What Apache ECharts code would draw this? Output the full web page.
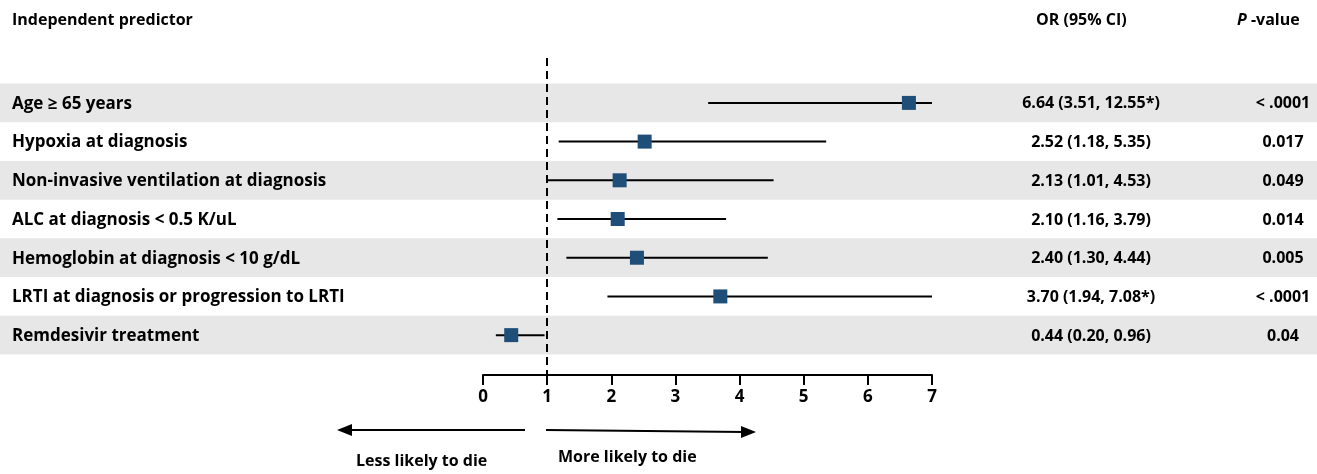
<!DOCTYPE html>
<html><head><meta charset="utf-8">
<script src="https://cdn.jsdelivr.net/npm/echarts@6/dist/echarts.min.js"></script>
<style>html,body{margin:0;padding:0;background:#fff}#c{width:1317px;height:474px}</style>
</head><body><div id="c"></div>
<script>
const predictors = ["Age \u2265 65 years","Hypoxia at diagnosis","Non-invasive ventilation at diagnosis","ALC at diagnosis < 0.5 K/uL","Hemoglobin at diagnosis < 10 g/dL","LRTI at diagnosis or progression to LRTI","Remdesivir treatment"];
const orValues = [6.64, 2.52, 2.13, 2.10, 2.40, 3.70, 0.44];
const ciLow = [3.51, 1.18, 1.01, 1.16, 1.30, 1.94, 0.20];
const ciHighPlotted = [7, 5.35, 4.53, 3.79, 4.44, 7, 0.96];
const orLabels = ["6.64 (3.51, 12.55*)","2.52 (1.18, 5.35)","2.13 (1.01, 4.53)","2.10 (1.16, 3.79)","2.40 (1.30, 4.44)","3.70 (1.94, 7.08*)","0.44 (0.20, 0.96)"];
const pLabels = ["< .0001","0.017","0.049","0.014","0.005","< .0001","0.04"];
const xTicks = [0,1,2,3,4,5,6,7];

const F = '"Open Sans", sans-serif';
const T = (o)=>Object.assign({fill:'#000', fontFamily:F, fontWeight:'bold', fontSize:16}, o);
const chart = echarts.init(document.getElementById('c'));
const rows = predictors.map((p,i)=>[i+1, orValues[i], ciLow[i], ciHighPlotted[i], p, orLabels[i], pLabels[i]]);
chart.setOption({
  animation:false,
  grid:{left:483, right:385, top:58, bottom:99},
  xAxis:{type:'value', min:0, max:7, interval:1,
    axisLine:{show:true, onZero:false, lineStyle:{color:'#000', width:2}},
    axisTick:{show:true, length:10, lineStyle:{color:'#000', width:2}},
    splitLine:{show:false},
    axisLabel:{color:'#000', fontFamily:F, fontWeight:'bold', fontSize:17, margin:14}},
  yAxis:{type:'value', min:-0.16, max:8.03, inverse:true, show:false},
  series:[
    {type:'custom', z:1, clip:false, data:rows,
     renderItem:(params, api)=>{
       const i = api.value(0);
       if (i % 2 === 0) return null;
       const y0 = api.coord([0, i-0.5])[1], y1 = api.coord([0, i+0.5])[1];
       return {type:'rect', shape:{x:0, y:y0, width:api.getWidth(), height:y1-y0}, style:{fill:'#e7e7e7'}};
     }},
    {type:'custom', z:5, clip:false, data:rows,
     renderItem:(params, api)=>{
       const i = api.value(0);
       const c = api.coord([api.value(1), i]);
       const l = api.coord([api.value(2), i]);
       const h = api.coord([api.value(3), i]);
       const r = rows[params.dataIndex];
       return {type:'group', children:[
         {type:'line', shape:{x1:l[0], y1:l[1], x2:h[0], y2:h[1]}, style:{stroke:'#000', lineWidth:2}},
         {type:'rect', shape:{x:c[0]-7, y:c[1]-7, width:14, height:14}, style:{fill:'#1f4e79'}},
         {type:'text', x:12, y:c[1]+1, style:T({text:r[4], fontSize:17, align:'left', verticalAlign:'middle'})},
         {type:'text', x:1091, y:c[1]+1, style:T({text:r[5], align:'center', verticalAlign:'middle'})},
         {type:'text', x:1283, y:c[1]+1, style:T({text:r[6], align:'center', verticalAlign:'middle'})}
       ]};
     },
     markLine:{silent:true, symbol:'none', label:{show:false},
       lineStyle:{color:'#000', type:[8,5], width:2}, data:[{xAxis:1}]}}
  ],
  graphic:[
    {type:'text', left:12, top:12, style:T({text:'Independent predictor'})},
    {type:'text', left:1036, top:12, style:T({text:'OR (95% CI)'})},
    {type:'text', left:1237, top:12, style:T({text:'{i|P} -value', rich:{i:{fontStyle:'italic', fontWeight:'bold', fontSize:16, fontFamily:F}}})},
    {type:'line', shape:{x1:525, y1:430, x2:345, y2:430}, style:{stroke:'#000', lineWidth:2}},
    {type:'polygon', shape:{points:[[337,430],[352,424],[352,436]]}, style:{fill:'#000'}},
    {type:'line', shape:{x1:546, y1:430, x2:745, y2:432}, style:{stroke:'#000', lineWidth:2}},
    {type:'polygon', shape:{points:[[756,432],[741,426],[741,438]]}, style:{fill:'#000'}},
    {type:'text', left:356, top:453, style:T({text:'Less likely to die'})},
    {type:'text', left:558, top:449, style:T({text:'More likely to die'})}
  ]
});
</script></body></html>
